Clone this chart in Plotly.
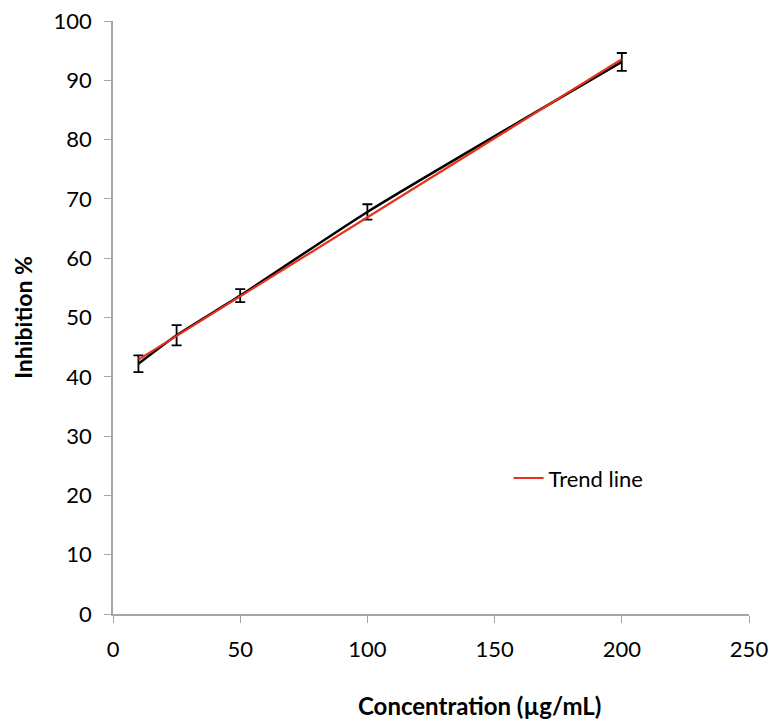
import numpy as np
import plotly.graph_objects as go

conc = [10, 25, 50, 100, 200]
inhibition = [42.2, 47.0, 53.7, 67.8, 93.1]
err = [1.4, 1.7, 1.1, 1.3, 1.5]
x_ticks = [0, 50, 100, 150, 200, 250]
y_ticks = [0, 10, 20, 30, 40, 50, 60, 70, 80, 90, 100]

slope, intercept = np.polyfit(conc, inhibition, 1)
trend_x = [conc[0], conc[-1]]
trend_y = [slope * v + intercept for v in trend_x]

FONT = "Lato"

fig = go.Figure()
fig.add_trace(go.Scatter(
    x=conc, y=inhibition, mode="lines", line=dict(color="black", width=2.5, shape="spline", smoothing=0.6),
    error_y=dict(type="data", array=err, visible=True, color="black", thickness=1.8, width=5),
    showlegend=False))
fig.add_trace(go.Scatter(
    x=trend_x, y=trend_y, mode="lines", line=dict(color="#e8301c", width=2.2),
    name="Trend line", showlegend=True))

fig.update_layout(
    width=773, height=724, plot_bgcolor="white", paper_bgcolor="white",
    margin=dict(l=113, r=24, t=21, b=110, autoexpand=False),
    font=dict(family=FONT, size=22, color="black"),
    legend=dict(x=0.622, y=0.229, xanchor="left", yanchor="middle", bgcolor="rgba(0,0,0,0)",
                font=dict(size=22, family=FONT)),
)
fig.add_annotation(text="<b>Concentration (µg/mL)</b>", xref="paper", yref="paper",
                   x=0.577, y=-0.155, xanchor="center", yanchor="middle", showarrow=False,
                   font=dict(size=24, family=FONT, color="black"))
fig.update_xaxes(range=[0, 250], tickvals=x_ticks, showgrid=False, zeroline=False,
                 showline=True, linecolor="#a6a6a6", linewidth=1.5, ticks="outside", ticklen=7,
                 tickcolor="#a6a6a6", tickfont=dict(size=22), ticklabelstandoff=8)
fig.update_yaxes(range=[0, 100], tickvals=y_ticks, showgrid=False, zeroline=False,
                 showline=True, linecolor="#a6a6a6", linewidth=1.5, ticks="outside", ticklen=7,
                 tickcolor="#a6a6a6", tickfont=dict(size=22), ticklabelstandoff=8,
                 title=dict(text="<b>Inhibition %</b>", font=dict(size=23), standoff=15))

fig.write_html("out.html")
